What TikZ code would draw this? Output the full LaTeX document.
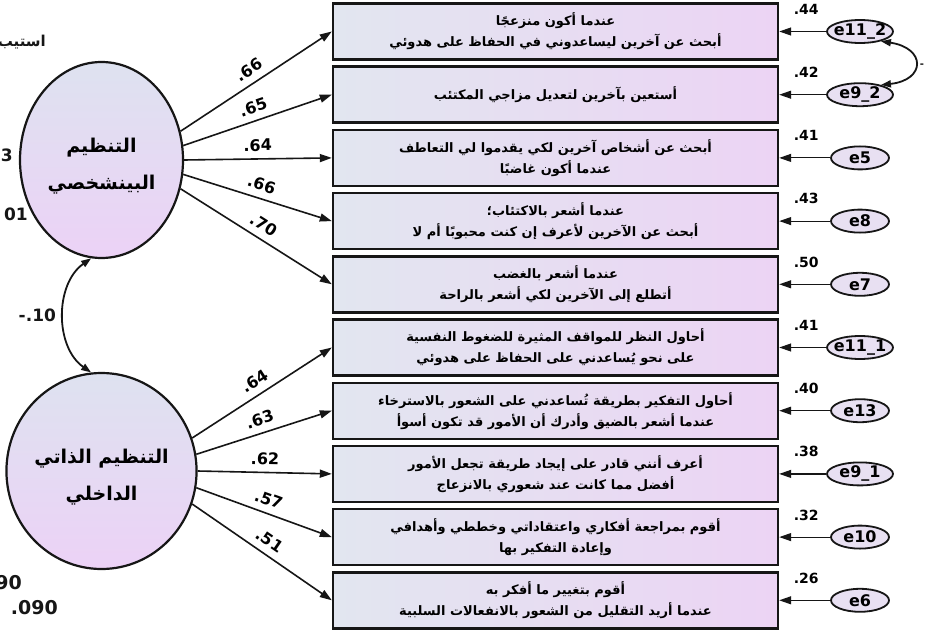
\documentclass[tikz,border=0pt]{standalone}
\usepackage{fontspec}
\setmainfont{DejaVu Sans}
\newfontfamily\arabicfont[Script=Arabic]{DejaVu Sans}
\TeXXeTstate=1
\usetikzlibrary{shapes.geometric,arrows.meta,calc}
\newcommand{\artxt}[1]{\beginR #1\endR}
\definecolor{boxA}{RGB}{226,230,240}
\definecolor{boxB}{RGB}{236,212,244}
\definecolor{latA}{RGB}{222,226,240}
\definecolor{latB}{RGB}{236,210,246}
\definecolor{errC}{RGB}{232,224,242}
\definecolor{ink}{RGB}{22,22,22}
\begin{document}
\begin{tikzpicture}[x=1pt,y=-1pt,
  latent/.style={ellipse, draw=ink, line width=2.2pt, minimum width=163pt, minimum height=196pt,
    inner sep=0pt, top color=latA, bottom color=latB, align=center,
    font=\arabicfont\bfseries\fontsize{19}{37}\selectfont},
  item/.style={rectangle, draw=ink, line width=2.4pt, minimum width=445pt, minimum height=56pt,
    inner sep=0pt, left color=boxA, right color=boxB, align=center,
    font=\arabicfont\bfseries\fontsize{13}{21}\selectfont},
  err/.style={ellipse, draw=ink, line width=1.8pt, fill=errC, minimum width=58pt, minimum height=23pt,
    inner xsep=-6pt, inner ysep=0pt, font=\bfseries\fontsize{16}{16}\selectfont},
  errw/.style={err, minimum width=66pt},
  load/.style={draw=ink, line width=1.6pt, -{Triangle[length=12pt,width=8pt]}},
  eload/.style={draw=ink, line width=1.2pt, -{Triangle[length=12pt,width=8pt]}},
  cov/.style={draw=ink, line width=1.8pt, {Triangle[length=10pt,width=7pt]}-{Triangle[length=10pt,width=7pt]}},
  lab/.style={font=\bfseries\fontsize{16}{16}\selectfont, sloped, above=6pt, inner sep=1pt, pos=.5},
  rsq/.style={font=\bfseries\fontsize{14}{14}\selectfont, inner sep=0pt},
  side/.style={font=\bfseries\fontsize{17}{17}\selectfont, inner sep=0pt, text=ink}
]
\useasboundingbox (0,0) rectangle (925,631);
\clip (0,0) rectangle (925,631);
\fill[white] (0,0) rectangle (925,631);

% latent factors
\node[latent] (F1) at (101.5,160) {\rule{0pt}{27pt}\artxt{التنظيم}\\\artxt{البينشخصي}};
\node[latent] (F2) at (101.5,471) {\rule{0pt}{27pt}\artxt{التنظيم الذاتي}\\\artxt{الداخلي}};

% items
\node[item] (b1) at (555.5,31.5) {\artxt{عندما أكون منزعجًا}\\\artxt{أبحث عن آخرين ليساعدوني في الحفاظ على هدوئي}};
\node[item] (b2) at (555.5,94.7) {\artxt{أستعين بآخرين لتعديل مزاجي المكتئب}};
\node[item] (b3) at (555.5,157.9) {\artxt{أبحث عن أشخاص آخرين لكي يقدموا لي التعاطف}\\\artxt{عندما أكون غاضبًا}};
\node[item] (b4) at (555.5,221.1) {\artxt{عندما أشعر بالاكتئاب؛}\\\artxt{أبحث عن الآخرين لأعرف إن كنت محبوبًا أم لا}};
\node[item] (b5) at (555.5,284.3) {\artxt{عندما أشعر بالغضب}\\\artxt{أتطلع إلى الآخرين لكي أشعر بالراحة}};
\node[item] (b6) at (555.5,347.5) {\artxt{أحاول النظر للمواقف المثيرة للضغوط النفسية}\\\artxt{على نحو يُساعدني على الحفاظ على هدوئي}};
\node[item] (b7) at (555.5,410.7) {\artxt{أحاول التفكير بطريقة تُساعدني على الشعور بالاسترخاء}\\\artxt{عندما أشعر بالضيق وأدرك أن الأمور قد تكون أسوأ}};
\node[item] (b8) at (555.5,473.9) {\artxt{أعرف أنني قادر على إيجاد طريقة تجعل الأمور}\\\artxt{أفضل مما كانت عند شعوري بالانزعاج}};
\node[item] (b9) at (555.5,537.1) {\artxt{أقوم بمراجعة أفكاري واعتقاداتي وخططي وأهدافي}\\\artxt{وإعادة التفكير بها}};
\node[item] (b10) at (555.5,600.3) {\artxt{أقوم بتغيير ما أفكر به}\\\artxt{عندما أريد التقليل من الشعور بالانفعالات السلبية}};

% error terms
\node[errw] (e1) at (860,31.5) {e11\_2};
\node[errw] (e2) at (860,94.7) {e9\_2};
\node[err] (e3) at (860,157.9) {e5};
\node[err] (e4) at (860,221.1) {e8};
\node[err] (e5) at (860,284.3) {e7};
\node[errw] (e6) at (860,347.5) {e11\_1};
\node[err] (e7) at (860,410.7) {e13};
\node[errw] (e8) at (860,473.9) {e9\_1};
\node[err] (e9) at (860,537.1) {e10};
\node[err] (e10) at (860,600.3) {e6};

% squared multiple correlations
\node[rsq] (r1) at ($(b1.north east)+(27,7)$) {.44};
\node[rsq] (r2) at ($(b2.north east)+(27,7)$) {.42};
\node[rsq] (r3) at ($(b3.north east)+(27,7)$) {.41};
\node[rsq] (r4) at ($(b4.north east)+(27,7)$) {.43};
\node[rsq] (r5) at ($(b5.north east)+(27,7)$) {.50};
\node[rsq] (r6) at ($(b6.north east)+(27,7)$) {.41};
\node[rsq] (r7) at ($(b7.north east)+(27,7)$) {.40};
\node[rsq] (r8) at ($(b8.north east)+(27,7)$) {.38};
\node[rsq] (r9) at ($(b9.north east)+(27,7)$) {.32};
\node[rsq] (r10) at ($(b10.north east)+(27,7)$) {.26};

% loadings
\draw[load] (F1.20) -- node[lab]{.66} (b1.west);
\draw[load] (F1.10) -- node[lab]{.65} (b2.west);
\draw[load] (F1.0) -- node[lab]{.64} (b3.west);
\draw[load] (F1.-10) -- node[lab]{.66} (b4.west);
\draw[load] (F1.-20) -- node[lab]{.70} (b5.west);
\draw[load] (F2.20) -- node[lab]{.64} (b6.west);
\draw[load] (F2.10) -- node[lab]{.63} (b7.west);
\draw[load] (F2.0) -- node[lab]{.62} (b8.west);
\draw[load] (F2.-10) -- node[lab]{.57} (b9.west);
\draw[load] (F2.-20) -- node[lab]{.51} (b10.west);

% error paths
\draw[eload] (e1.west) -- (b1.east);
\draw[eload] (e2.west) -- (b2.east);
\draw[eload] (e3.west) -- (b3.east);
\draw[eload] (e4.west) -- (b4.east);
\draw[eload] (e5.west) -- (b5.east);
\draw[eload] (e6.west) -- (b6.east);
\draw[eload] (e7.west) -- (b7.east);
\draw[eload] (e8.west) -- (b8.east);
\draw[eload] (e9.west) -- (b9.east);
\draw[eload] (e10.west) -- (b10.east);

% covariances
\draw[cov] (F1.264) to[out=215,in=145] node[side,left=7pt]{-.10} (F2.96);
\draw[cov] (e1.-25) .. controls (926,48) and (926,80) .. (e2.25);
\node[side,font=\bfseries\fontsize{10}{10}\selectfont] (dash) at (922,66) {-};

% cut-off side texts
\node[side,anchor=east,font=\arabicfont\bfseries\fontsize{15}{15}\selectfont] (tq) at (46,42) {\artxt{استيب}};
\node[side,anchor=east] (t3) at (13,155) {3};
\node[side,anchor=east] (t01) at (28,214) {01};
\node[side,anchor=east,font=\bfseries\fontsize{19}{19}\selectfont] (t90) at (22,583) {90};
\node[side,anchor=east,font=\bfseries\fontsize{19}{19}\selectfont] (t090) at (58,608) {.090};
\end{tikzpicture}
\end{document}
